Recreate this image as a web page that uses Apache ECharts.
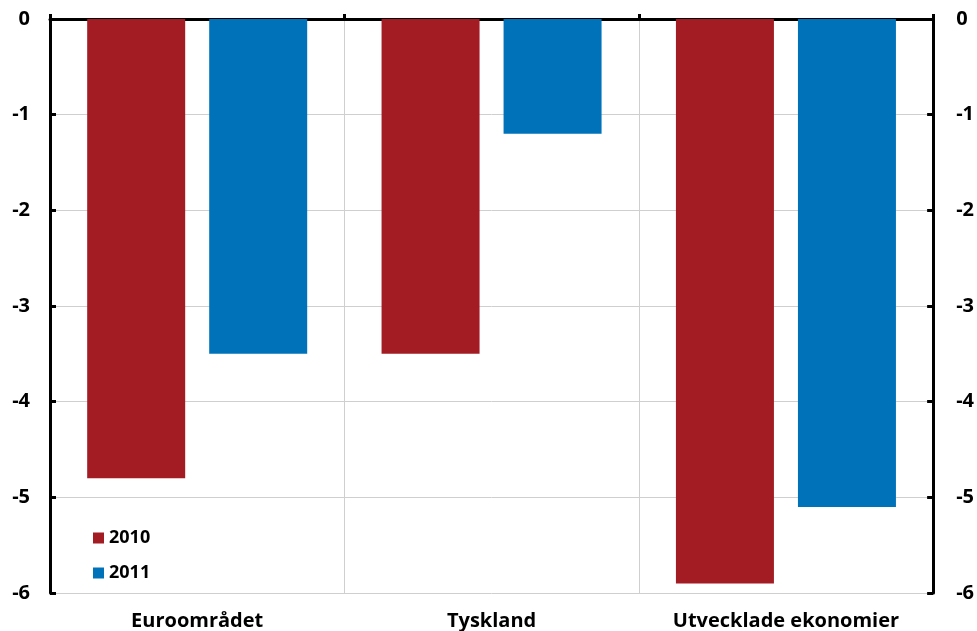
<!DOCTYPE html>
<html>
<head>
<meta charset="utf-8">
<script src="https://cdn.jsdelivr.net/npm/echarts@6/dist/echarts.min.js"></script>
<style>
html,body{margin:0;padding:0;background:#fff;}
#chart{width:977px;height:631px;}
</style>
</head>
<body>
<div id="chart"></div>
<script>
// Categories and yearly values (percent)
const categories = ['Euroområdet', 'Tyskland', 'Utvecklade ekonomier'];
const seriesNames = ['2010', '2011'];
const values2010 = [-4.8, -3.5, -5.9];
const values2011 = [-3.5, -1.2, -5.1];
const yTicks = { min: -6, max: 0, interval: 1 };

const RED = '#A31C24';
const BLUE = '#0072BA';
const FONT = '"Open Sans", "DejaVu Sans", sans-serif';

const chart = echarts.init(document.getElementById('chart'), null, { renderer: 'canvas' });

const valueAxis = (pos) => ({
  type: 'value',
  position: pos,
  min: yTicks.min,
  max: yTicks.max,
  interval: yTicks.interval,
  axisLine: { show: true, lineStyle: { color: '#000', width: 3 } },
  axisTick: { show: true, inside: true, length: 6, lineStyle: { color: '#000', width: 3 } },
  axisLabel: {
    color: '#000', fontFamily: FONT, fontWeight: 'bold', fontSize: 20,
    margin: pos === 'left' ? 20 : 23
  },
  splitLine: { show: pos === 'left', lineStyle: { color: '#cfcfcf', width: 1 } }
});

chart.setOption({
  animation: false,
  grid: { left: 50, right: 43, top: 19, bottom: 36, containLabel: false },
  legend: {
    orient: 'vertical',
    left: 88,
    top: 524,
    itemWidth: 11,
    itemHeight: 11,
    itemGap: 17,
    icon: 'rect',
    data: seriesNames,
    textStyle: { color: '#000', fontFamily: FONT, fontWeight: 'bold', fontSize: 18 }
  },
  xAxis: [
    {
      // top axis line at zero with category boundary ticks
      type: 'category',
      data: categories,
      position: 'top',
      axisLine: { show: true, lineStyle: { color: '#000', width: 3 } },
      axisTick: { show: true, length: 5, lineStyle: { color: '#000', width: 3 } },
      axisLabel: { show: false },
      splitLine: { show: true, lineStyle: { color: '#cfcfcf', width: 1 } }
    },
    {
      // category names below the plot
      type: 'category',
      data: categories,
      position: 'bottom',
      axisLine: { show: false },
      axisTick: { show: false },
      axisLabel: {
        color: '#000', fontFamily: FONT, fontWeight: 'bold', fontSize: 20, margin: 18
      },
      splitLine: { show: false }
    }
  ],
  yAxis: [valueAxis('left'), valueAxis('right')],
  series: [
    {
      name: seriesNames[0], type: 'bar', data: values2010,
      xAxisIndex: 0, yAxisIndex: 0,
      barWidth: 98, barGap: '24.5%',
      itemStyle: { color: RED }
    },
    {
      name: seriesNames[1], type: 'bar', data: values2011,
      xAxisIndex: 0, yAxisIndex: 0,
      barWidth: 98, barGap: '24.5%',
      itemStyle: { color: BLUE }
    }
  ]
});
</script>
</body>
</html>
